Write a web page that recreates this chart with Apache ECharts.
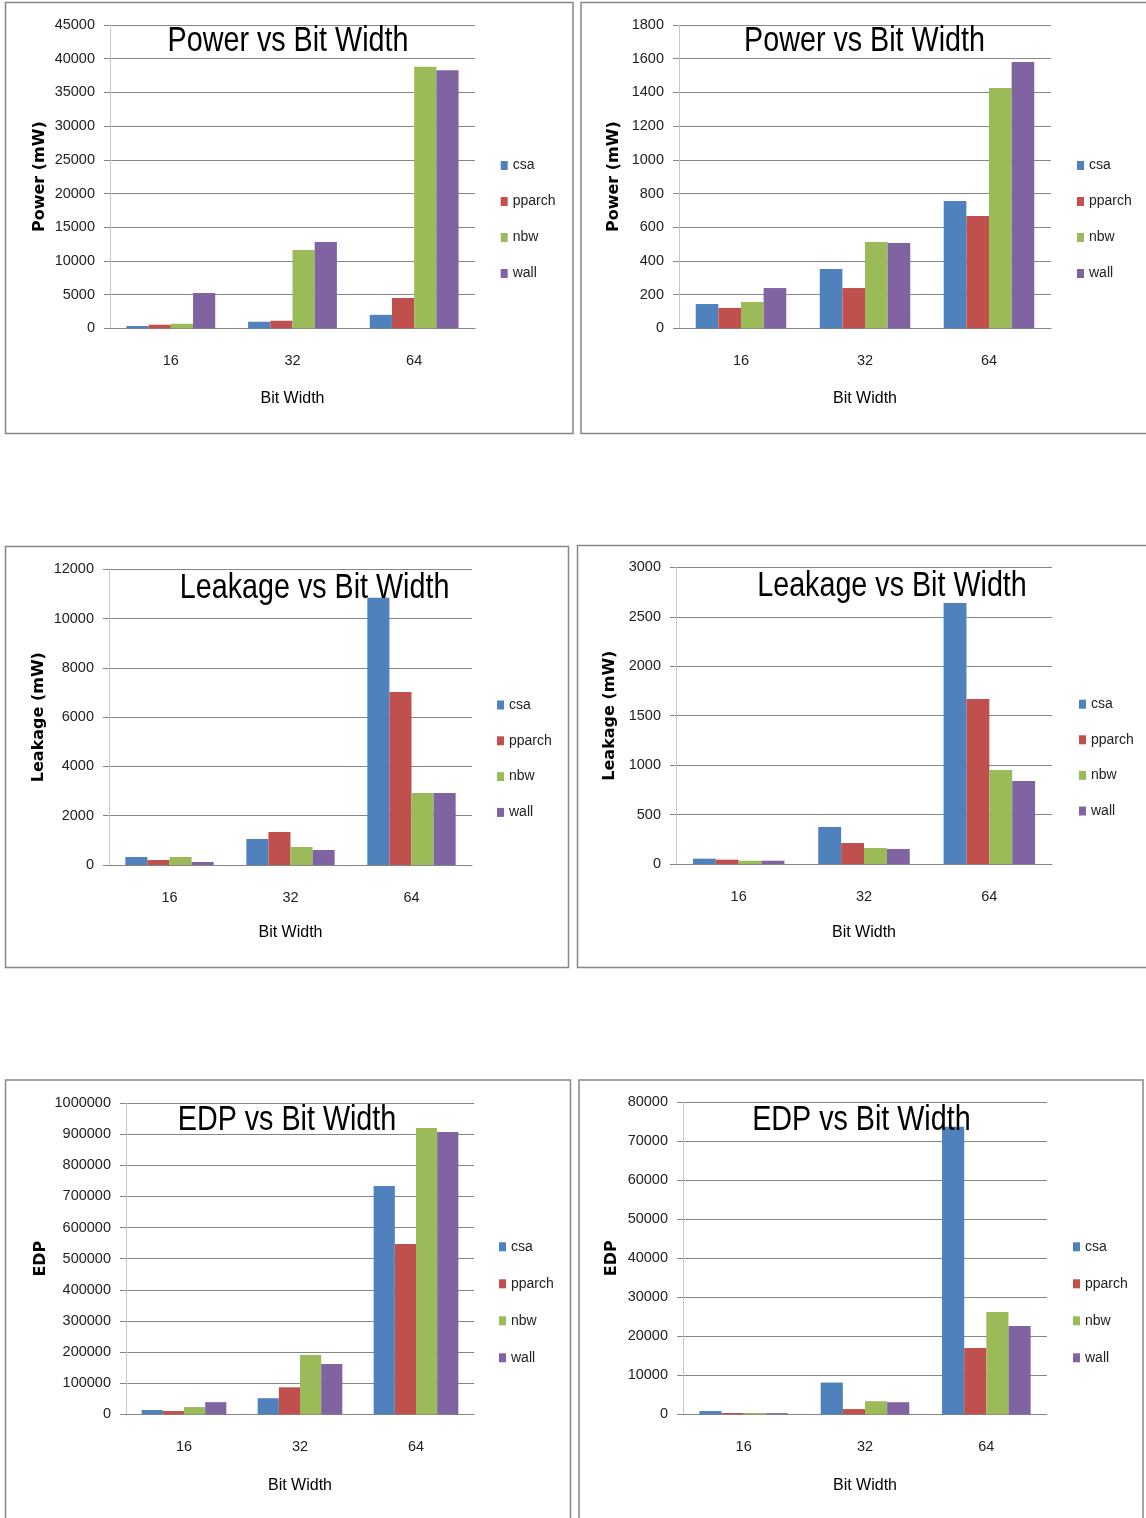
<!DOCTYPE html>
<html><head><meta charset="utf-8">
<script src="https://cdn.jsdelivr.net/npm/echarts@6/dist/echarts.min.js"></script>
<style>html,body{margin:0;padding:0;background:#fff;}#c{width:1146px;height:1518px;}</style>
</head><body><div id="c"></div>
<script>
// ---- data ----
const categories = ['16', '32', '64'];
const seriesNames = ['csa', 'pparch', 'nbw', 'wall'];
const chartTitles = ['Power vs Bit Width', 'Power vs Bit Width', 'Leakage vs Bit Width', 'Leakage vs Bit Width', 'EDP vs Bit Width', 'EDP vs Bit Width'];
const yNames = ['Power (mW)', 'Power (mW)', 'Leakage (mW)', 'Leakage (mW)', 'EDP', 'EDP'];
const xName = 'Bit Width';
// rows: csa, pparch, nbw, wall ; columns: 16, 32, 64
const powerLeft = [[340, 970, 2000], [530, 1120, 4500], [680, 11600, 38800], [5240, 12800, 38300]];
const powerRight = [[144, 352, 755], [121, 239, 667], [156, 512, 1426], [239, 506, 1580]];
const leakageLeft = [[325, 1055, 10850], [203, 1340, 7020], [325, 730, 2920], [122, 610, 2920]];
const leakageRight = [[54, 374, 2640], [44, 212, 1669], [33, 162, 951], [33, 152, 840]];
const edpLeft = [[13700, 51700, 733400], [10500, 86700, 547100], [23200, 190600, 919700], [39000, 161700, 906900]];
const edpRight = [[830, 8140, 73700], [330, 1340, 17000], [330, 3360, 26240], [300, 3100, 22650]];
const yMax = [45000, 1800, 12000, 3000, 1000000, 80000];
const yStep = [5000, 200, 2000, 500, 100000, 10000];
const panelValues = [powerLeft, powerRight, leakageLeft, leakageRight, edpLeft, edpRight];

// ---- layout / style ----
const colors = ['#4F81BD', '#C0504D', '#9BBB59', '#8064A2'];
const SANS = "'Liberation Sans', Arial, sans-serif";
const layout = [
  { box: [5.5, 2.5, 573, 433.5], plot: [110, 25, 475, 328.3], title: [288, 24], legend: [500.7, 158.5, 22], yGap: 62, xGap: 62 },
  { box: [581, 2.5, 1160, 433.5], plot: [679, 25, 1051, 328.3], title: [864.5, 24], legend: [1077, 158.5, 22], yGap: 57, xGap: 62 },
  { box: [5.5, 546.5, 568.5, 967.5], plot: [109, 569.3, 472, 865], title: [314.6, 570.5], legend: [497, 698, 21.8], yGap: 62, xGap: 60 },
  { box: [577.5, 545.5, 1160, 967.5], plot: [676, 567.3, 1052, 864], title: [892, 568.5], legend: [1079, 697.2, 21.6], yGap: 58, xGap: 61 },
  { box: [5.5, 1080, 570.5, 1530], plot: [126, 1103, 474, 1414.3], title: [287, 1102.5], legend: [499, 1239.8, 23], yGap: 77, xGap: 63 },
  { box: [579, 1080, 1143, 1530], plot: [683, 1102.3, 1047, 1414.3], title: [861.4, 1102.5], legend: [1073, 1239.8, 23], yGap: 63, xGap: 63 }
];

const grid = [], xAxis = [], yAxis = [], series = [], legend = [], graphic = [];
layout.forEach((p, i) => {
  const [L, T, R, B] = p.plot;
  grid.push({ left: L, top: T, width: R - L, height: B - T, containLabel: false });
  xAxis.push({
    type: 'category', gridIndex: i, data: categories,
    name: xName, nameLocation: 'middle', nameGap: p.xGap,
    nameTextStyle: { fontFamily: SANS, fontSize: 16, color: '#000' },
    axisLine: { lineStyle: { color: '#868686', width: 1 } },
    axisTick: { length: 6, lineStyle: { color: '#868686' } },
    axisLabel: { margin: 25, fontFamily: SANS, fontSize: 14.5, color: '#222' },
    splitLine: { show: false }
  });
  yAxis.push({
    type: 'value', gridIndex: i, min: 0, max: yMax[i], interval: yStep[i],
    name: yNames[i], nameLocation: 'middle', nameGap: p.yGap,
    nameTextStyle: { fontFamily: 'DejaVu Sans', fontWeight: 'bold', fontSize: 16, color: '#000' },
    axisLine: { show: true, lineStyle: { color: '#c8c8c8', width: 1 } },
    axisTick: { show: true, length: 6, lineStyle: { color: '#868686' } },
    splitLine: { lineStyle: { color: '#868686', width: 1 } },
    axisLabel: { margin: 15, fontFamily: SANS, fontSize: 14.5, color: '#222', formatter: v => String(v) }
  });
  legend.push({
    data: seriesNames, orient: 'vertical', left: p.legend[0], top: p.legend[1], itemGap: p.legend[2],
    icon: 'rect', itemWidth: 7, itemHeight: 9, padding: 0,
    textStyle: { fontFamily: SANS, fontSize: 14, color: '#222' }
  });
  const [bx0, by0, bx1, by1] = p.box;
  graphic.push({
    type: 'rect', silent: true, z: 0,
    shape: { x: bx0, y: by0, width: bx1 - bx0, height: by1 - by0 },
    style: { fill: 'none', stroke: '#878787', lineWidth: 1.5 }
  });
  // chart title (condensed look via horizontal scale)
  graphic.push({
    type: 'text', silent: true, z: 100,
    x: p.title[0], y: p.title[1], scaleX: 0.82, scaleY: 1,
    style: { text: chartTitles[i], font: "35px " + SANS, fill: '#000', align: 'center', verticalAlign: 'top' }
  });
  seriesNames.forEach((name, j) => {
    series.push({
      type: 'bar', name, xAxisIndex: i, yAxisIndex: i,
      data: panelValues[i][j],
      itemStyle: { color: colors[j] },
      barGap: '0%', barCategoryGap: '27%'
    });
  });
});

const chart = echarts.init(document.getElementById('c'), null, { renderer: 'canvas' });
chart.setOption({
  animation: false,
  backgroundColor: '#fff',
  grid, xAxis, yAxis, series, legend, graphic
});
</script></body></html>
